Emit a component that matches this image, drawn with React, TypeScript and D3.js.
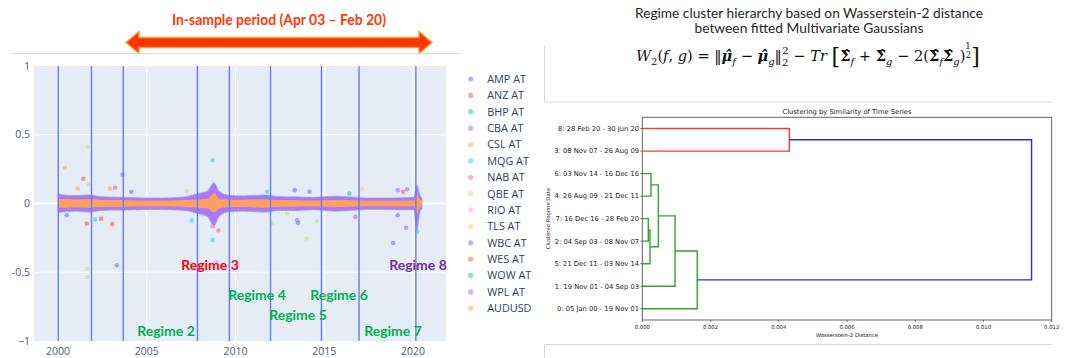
import React from "react";
import * as d3 from "d3";

// ---------- returns scatter (left panel) ----------
const tickers = ["AMP AT", "ANZ AT", "BHP AT", "CBA AT", "CSL AT", "MQG AT", "NAB AT", "QBE AT", "RIO AT", "TLS AT", "WBC AT", "WES AT", "WOW AT", "WPL AT", "AUDUSD"];
const tickerColors = ["#636EFA", "#EF553B", "#00CC96", "#AB63FA", "#FFA15A", "#19D3F3", "#FF6692", "#B6E880", "#FF97FF", "#FECB52", "#636EFA", "#EF553B", "#00CC96", "#AB63FA", "#FFA15A"];

// regime start dates; the last regime runs to sampleEnd
const regimeStarts = ["2000-01-05", "2001-11-19", "2003-09-04", "2007-11-08", "2009-08-26", "2011-12-21", "2014-11-03", "2016-12-16", "2020-02-28"];
const sampleEnd = "2020-06-30";

// envelope of the dense cloud of daily returns
const bandDates = ["2000-01-05", "2000-06-01", "2001-01-01", "2001-10-01", "2002-06-01", "2003-06-01", "2004-06-01", "2005-06-01", "2006-06-01", "2007-03-01", "2007-11-01", "2008-06-01", "2008-10-15", "2009-02-01", "2009-08-01", "2010-06-01", "2011-09-01", "2012-06-01", "2013-06-01", "2014-06-01", "2015-09-01", "2016-06-01", "2017-06-01", "2018-06-01", "2019-06-01", "2020-01-15", "2020-03-25", "2020-05-01", "2020-06-30"];
const bandOuterUpper = [0.07, 0.06, 0.058, 0.062, 0.05, 0.045, 0.042, 0.04, 0.042, 0.048, 0.07, 0.09, 0.15, 0.085, 0.06, 0.055, 0.062, 0.05, 0.048, 0.045, 0.052, 0.048, 0.04, 0.04, 0.042, 0.045, 0.135, 0.08, 0.035];
const bandOuterLower = [-0.065, -0.06, -0.055, -0.062, -0.05, -0.048, -0.045, -0.042, -0.045, -0.05, -0.07, -0.095, -0.16, -0.09, -0.06, -0.055, -0.062, -0.05, -0.05, -0.045, -0.055, -0.05, -0.042, -0.042, -0.045, -0.045, -0.195, -0.09, -0.035];
const bandCoreUpper = [0.035, 0.032, 0.03, 0.033, 0.028, 0.025, 0.022, 0.02, 0.022, 0.025, 0.03, 0.035, 0.075, 0.035, 0.03, 0.028, 0.03, 0.025, 0.024, 0.022, 0.025, 0.023, 0.02, 0.02, 0.02, 0.022, 0.07, 0.04, 0.02];
const bandCoreLower = [-0.03, -0.03, -0.028, -0.03, -0.026, -0.025, -0.022, -0.022, -0.022, -0.025, -0.03, -0.035, -0.065, -0.035, -0.028, -0.026, -0.03, -0.025, -0.024, -0.022, -0.025, -0.023, -0.02, -0.02, -0.022, -0.022, -0.075, -0.04, -0.02];

// isolated returns away from the cloud
const outlierDates = ["2001-09-02", "2000-05-22", "2001-06-05", "2001-09-15", "2003-08-20", "2001-02-10", "2002-12-05", "2003-03-20", "2004-02-15", "2008-09-12", "2013-05-01", "2014-03-01", "2017-02-15", "2019-02-20", "2019-09-01", "2019-06-10", "2016-05-30", "2011-10-10", "2007-04-05", "2000-06-28", "2002-02-01", "2003-01-20", "2001-08-15", "2002-06-05", "2007-07-15", "2008-09-20", "2009-01-15", "2012-11-25", "2013-06-20", "2016-10-01", "2019-02-20", "2019-08-10", "2020-03-25", "2013-12-28", "2008-09-12", "2001-08-25", "2001-08-25", "2003-04-22", "2008-11-28", "2018-11-15", "2013-07-10", "2012-01-20", "2014-08-01"];
const outlierValues = [0.41, 0.26, 0.18, 0.14, 0.21, 0.11, 0.11, 0.115, 0.085, 0.315, 0.097, 0.085, 0.11, 0.097, 0.104, 0.085, 0.073, 0.085, 0.09, -0.085, -0.117, -0.15, -0.146, -0.11, -0.121, -0.165, -0.194, -0.073, -0.121, -0.097, -0.085, -0.177, -0.206, -0.255, -0.265, -0.473, -0.534, -0.449, -0.425, -0.287, -0.141, -0.141, -0.127];
const outlierTicker = [7, 4, 1, 7, 0, 4, 4, 3, 0, 5, 10, 0, 9, 13, 3, 11, 12, 5, 7, 10, 5, 1, 11, 1, 5, 6, 6, 7, 13, 3, 0, 13, 5, 7, 5, 7, 7, 0, 8, 10, 10, 7, 7];

const yTicks = [1, 0.5, 0, -0.5, -1];
const yTickLabels = ["1", "0.5", "0", "-0.5", "\u22121"];
const xTickYears = [2000, 2005, 2010, 2015, 2020];

const regimeNames = ["Regime 2", "Regime 3", "Regime 4", "Regime 5", "Regime 6", "Regime 7", "Regime 8"];

// ---------- Wasserstein-2 dendrogram (right panel) ----------
const leafOrder = [0, 1, 5, 2, 7, 4, 6, 3, 8]; // bottom to top
// linkage rows: ids < 9 are regimes, id 9 + k is the cluster formed in row k
const linkA = [7, 9, 6, 11, 12, 13, 8, 15];
const linkB = [2, 5, 4, 10, 1, 0, 3, 14];
const linkDist = [0.000176, 0.000225, 0.000255, 0.00047, 0.00096, 0.00161, 0.00431, 0.01141];
const distTicks = [0, 0.002, 0.004, 0.006, 0.008, 0.01, 0.012];

const parse = d3.timeParse("%Y-%m-%d");

export default function App() {
  // ---- left scatter geometry ----
  const x = d3.scaleTime().domain([parse("1998-08-24")!, parse("2021-11-09")!]).range([34, 446]);
  const y = d3.scaleLinear().domain([-1, 1]).range([341, 66]);

  const band = bandDates.map((d, i) => ({
    date: parse(d)!,
    oh: bandOuterUpper[i],
    ol: bandOuterLower[i],
    ch: bandCoreUpper[i],
    cl: bandCoreLower[i],
  }));
  const outerArea = d3.area<any>().x((d) => x(d.date)).y0((d) => y(d.ol)).y1((d) => y(d.oh)).curve(d3.curveMonotoneX);
  const coreArea = d3.area<any>().x((d) => x(d.date)).y0((d) => y(d.cl)).y1((d) => y(d.ch)).curve(d3.curveMonotoneX);

  const sans = "'Open Sans', 'Noto Sans', sans-serif";
  const tickFill = "#4b5a74";

  // regime annotation placement (x centre, baseline)
  const regimeLabelLayout = [
    { cx: 166, by: 336, color: "#00B050" },
    { cx: 210, by: 270, color: "#FF0000" },
    { cx: 257, by: 300, color: "#00B050" },
    { cx: 298, by: 320, color: "#00B050" },
    { cx: 339, by: 300, color: "#00B050" },
    { cx: 393, by: 336, color: "#00B050" },
    { cx: 418, by: 270, color: "#7030A0" },
  ];

  // ---- dendrogram geometry ----
  const dx = d3.scaleLinear().domain([0, 0.012]).range([642.3, 1051.7]);
  const dy = d3.scaleLinear().domain([0, 90]).range([320, 117.3]);
  const nLeaves = leafOrder.length;
  const nodeY: number[] = [];
  const nodeD: number[] = [];
  leafOrder.forEach((id, p) => {
    nodeY[id] = 5 + 10 * p;
    nodeD[id] = 0;
  });
  linkDist.forEach((d, k) => {
    const id = nLeaves + k;
    nodeY[id] = (nodeY[linkA[k]] + nodeY[linkB[k]]) / 2;
    nodeD[id] = d;
  });
  const threshold = 0.7 * (d3.max(linkDist) as number);
  const palette = ["#35a035", "#f23a3a"];
  const aboveColor = "#2b2bf5";
  const minPos = (id: number): number =>
    id < nLeaves ? leafOrder.indexOf(id) : Math.min(minPos(linkA[id - nLeaves]), minPos(linkB[id - nLeaves]));
  // clusters: sub-threshold nodes whose parent sits above the threshold
  const roots: number[] = [];
  linkDist.forEach((d, k) => {
    if (d > threshold) {
      [linkA[k], linkB[k]].forEach((c) => {
        if (c >= nLeaves && nodeD[c] <= threshold) roots.push(c);
      });
    }
  });
  roots.sort((a, b) => minPos(a) - minPos(b));
  const linkColor: string[] = linkDist.map((d) => (d > threshold ? aboveColor : "#000"));
  const paint = (id: number, c: string) => {
    if (id < nLeaves) return;
    linkColor[id - nLeaves] = c;
    paint(linkA[id - nLeaves], c);
    paint(linkB[id - nLeaves], c);
  };
  roots.forEach((r, i) => paint(r, palette[i % palette.length]));

  const fmtRange = d3.timeFormat("%d %b %y");
  const regimeRange = (id: number) => {
    const s = parse(regimeStarts[id])!;
    const e = parse(id + 1 < regimeStarts.length ? regimeStarts[id + 1] : sampleEnd)!;
    return `${id}: ${fmtRange(s)} - ${fmtRange(e)}`;
  };
  const mpl = "'DejaVu Sans', sans-serif";

  const serif = "'DejaVu Serif', 'Liberation Serif', serif";
  const fs = 14.6;
  const sub = 10;

  return (
    <svg width={1067} height={358} style={{ position: "absolute", left: 0, top: 0, background: "#fff" }} xmlns="http://www.w3.org/2000/svg">
      <defs>
        <clipPath id="plotClip">
          <rect x={34} y={66} width={412} height={275} />
        </clipPath>
      </defs>

      {/* ---------------- in-sample annotation ---------------- */}
      <text x={279} y={25} textAnchor="middle" fontFamily="Lato, sans-serif" fontWeight="bold" fontSize={14.5} fill="#FF3A0A" textLength={214} lengthAdjust="spacingAndGlyphs">
        In-sample period (Apr 03 – Feb 20)
      </text>
      <polygon
        points="126,42.5 139,31.5 139,37.5 419,37.5 419,31.5 432,42.5 419,53.5 419,47.5 139,47.5 139,53.5"
        fill="#FF3300"
        stroke="#EFA03A"
        strokeWidth={1.5}
        strokeLinejoin="miter"
      />
      <line x1={12} x2={460} y1={53.5} y2={53.5} stroke="#d9d9d9" strokeWidth={1} />

      {/* ---------------- scatter plot ---------------- */}
      <rect x={34} y={66} width={412} height={275} fill="#E5ECF6" />
      {yTicks.filter((t) => t !== 0 && Math.abs(t) < 1).map((t) => (
        <line key={t} x1={34} x2={446} y1={y(t)} y2={y(t)} stroke="#fff" strokeWidth={1} />
      ))}
      {xTickYears.map((yr) => {
        const px = x(new Date(yr, 0, 1));
        return <line key={yr} x1={px} x2={px} y1={66} y2={341} stroke="#fff" strokeWidth={1} />;
      })}
      <line x1={34} x2={446} y1={y(0)} y2={y(0)} stroke="#fff" strokeWidth={2} />

      <g clipPath="url(#plotClip)">
        <path d={outerArea(band) || ""} fill="#A567F5" fillOpacity={0.88} stroke="#8fa0f2" strokeOpacity={0.7} strokeWidth={1.2} />
        <path d={coreArea(band) || ""} fill="#FFA15A" fillOpacity={0.97} />
        {outlierDates.map((d, i) => (
          <circle key={i} cx={x(parse(d)!)} cy={y(outlierValues[i])} r={2.3} fill={tickerColors[outlierTicker[i]]} fillOpacity={0.55} />
        ))}
        {regimeStarts.map((d) => {
          const px = x(parse(d)!);
          return <line key={d} x1={px} x2={px} y1={66} y2={341} stroke="#6a7cf2" strokeWidth={1.4} />;
        })}
      </g>

      {yTicks.map((t, i) => (
        <text key={t} x={30} y={y(t)} dy="0.35em" textAnchor="end" fontFamily={sans} fontSize={10.5} fill={tickFill}>
          {yTickLabels[i]}
        </text>
      ))}
      {xTickYears.map((yr) => (
        <text key={yr} x={x(new Date(yr, 0, 1))} y={355} textAnchor="middle" fontFamily={sans} fontSize={10.5} fill={tickFill}>
          {yr}
        </text>
      ))}

      {regimeNames.map((name, i) => (
        <text key={name} x={regimeLabelLayout[i].cx} y={regimeLabelLayout[i].by} textAnchor="middle" fontFamily="Lato, sans-serif" fontWeight="bold" fontSize={14} fill={regimeLabelLayout[i].color}>
          {name}
        </text>
      ))}

      {/* legend */}
      {tickers.map((t, i) => (
        <g key={t} transform={`translate(0, ${79 + i * 16.38})`}>
          <circle cx={470.7} cy={0} r={2.6} fill={tickerColors[i]} fillOpacity={0.5} />
          <text x={487.3} y={0} dy="0.36em" fontFamily={sans} fontSize={10.8} fill="#2a3f5f">
            {t}
          </text>
        </g>
      ))}

      {/* ---------------- heading and W2 formula ---------------- */}
      <text x={809} y={17.5} textAnchor="middle" fontFamily="Lato, sans-serif" fontSize={14} fill="#262626" textLength={348} lengthAdjust="spacingAndGlyphs">
        Regime cluster hierarchy based on Wasserstein-2 distance
      </text>
      <text x={809} y={32.5} textAnchor="middle" fontFamily="Lato, sans-serif" fontSize={14} fill="#262626" textLength={229} lengthAdjust="spacingAndGlyphs">
        between fitted Multivariate Gaussians
      </text>
      <text x={636} y={61} fontFamily={serif} fontSize={fs} fill="#111" style={{ whiteSpace: "pre" }}>
        <tspan fontStyle="italic">W</tspan>
        <tspan fontSize={sub} dy={4}>2</tspan>
        <tspan dy={-4}>(</tspan>
        <tspan fontStyle="italic">f</tspan>
        <tspan>{", "}</tspan>
        <tspan fontStyle="italic">g</tspan>
        <tspan>{") = \u2016"}</tspan>
        <tspan fontWeight="bold" fontStyle="italic">{"\u03bc\u0302"}</tspan>
        <tspan fontSize={sub} dy={4} fontStyle="italic">f</tspan>
        <tspan dy={-4}>{" \u2212 "}</tspan>
        <tspan fontWeight="bold" fontStyle="italic">{"\u03bc\u0302"}</tspan>
        <tspan fontSize={sub} dy={4} fontStyle="italic">g</tspan>
        <tspan dy={-4}>{"\u2016"}</tspan>
        <tspan fontSize={sub} dy={5}>2</tspan>
        <tspan fontSize={sub} dx={-6} dy={-12}>2</tspan>
        <tspan dy={7}>{" \u2212 "}</tspan>
        <tspan fontStyle="italic">Tr</tspan>
        <tspan>{" "}</tspan>
        <tspan fontSize={22} dy={3}>[</tspan>
        <tspan dy={-3} fontWeight="bold">{"\u03a3\u0302"}</tspan>
        <tspan fontSize={sub} dy={4} fontStyle="italic">f</tspan>
        <tspan dy={-4}>{" + "}</tspan>
        <tspan fontWeight="bold">{"\u03a3\u0302"}</tspan>
        <tspan fontSize={sub} dy={4} fontStyle="italic">g</tspan>
        <tspan dy={-4}>{" \u2212 2("}</tspan>
        <tspan fontWeight="bold">{"\u03a3\u0302"}</tspan>
        <tspan fontSize={sub} dy={4} fontStyle="italic">f</tspan>
        <tspan dy={-4} fontWeight="bold">{"\u03a3\u0302"}</tspan>
        <tspan fontSize={sub} dy={4} fontStyle="italic">g</tspan>
        <tspan dy={-4}>)</tspan>
        <tspan fontSize={8.5} dy={-12}>1</tspan>
        <tspan fontSize={8.5} dx={-5} dy={8.5}>2</tspan>
        <tspan fontSize={22} dy={6.5}>]</tspan>
      </text>

      {/* panel frames */}
      <polyline points="544.5,45 544.5,102 1053,102" fill="none" stroke="#d9d9d9" strokeWidth={1} />
      <polyline points="544.5,358 544.5,344.5 1053,344.5" fill="none" stroke="#d9d9d9" strokeWidth={1} />

      {/* ---------------- dendrogram ---------------- */}
      <text x={847} y={114} textAnchor="middle" fontFamily={mpl} fontSize={6.75} fill="#222">
        Clustering by Similarity of Time Series
      </text>
      {linkDist.map((d, k) => {
        const a = linkA[k];
        const b = linkB[k];
        const p = `M${dx(nodeD[a])},${dy(nodeY[a])}H${dx(d)}V${dy(nodeY[b])}H${dx(nodeD[b])}`;
        return <path key={k} d={p} fill="none" stroke={linkColor[k]} strokeWidth={1.4} />;
      })}
      <rect x={642.3} y={117.3} width={1051.7 - 642.3} height={320 - 117.3} fill="none" stroke="#555" strokeWidth={0.9} />
      {leafOrder.map((id, p) => (
        <g key={id}>
          <line x1={640.3} x2={642.3} y1={dy(5 + 10 * p)} y2={dy(5 + 10 * p)} stroke="#555" strokeWidth={0.8} />
          <text x={639} y={dy(5 + 10 * p)} dy="0.35em" textAnchor="end" fontFamily={mpl} fontSize={6.75} fill="#222">
            {regimeRange(id)}
          </text>
        </g>
      ))}
      {distTicks.map((t) => (
        <g key={t}>
          <line x1={dx(t)} x2={dx(t)} y1={320} y2={322} stroke="#555" strokeWidth={0.8} />
          <text x={dx(t)} y={329} textAnchor="middle" fontFamily={mpl} fontSize={5.3} fill="#222">
            {d3.format(".3f")(t)}
          </text>
        </g>
      ))}
      <text x={847} y={337} textAnchor="middle" fontFamily={mpl} fontSize={5.3} fill="#222">
        Wasserstein-2 Distance
      </text>
      <text transform={`translate(550, ${(117.3 + 320) / 2}) rotate(-90)`} textAnchor="middle" fontFamily={mpl} fontSize={5.3} fill="#222">
        Clustered Regime Date
      </text>
    </svg>
  );
}
